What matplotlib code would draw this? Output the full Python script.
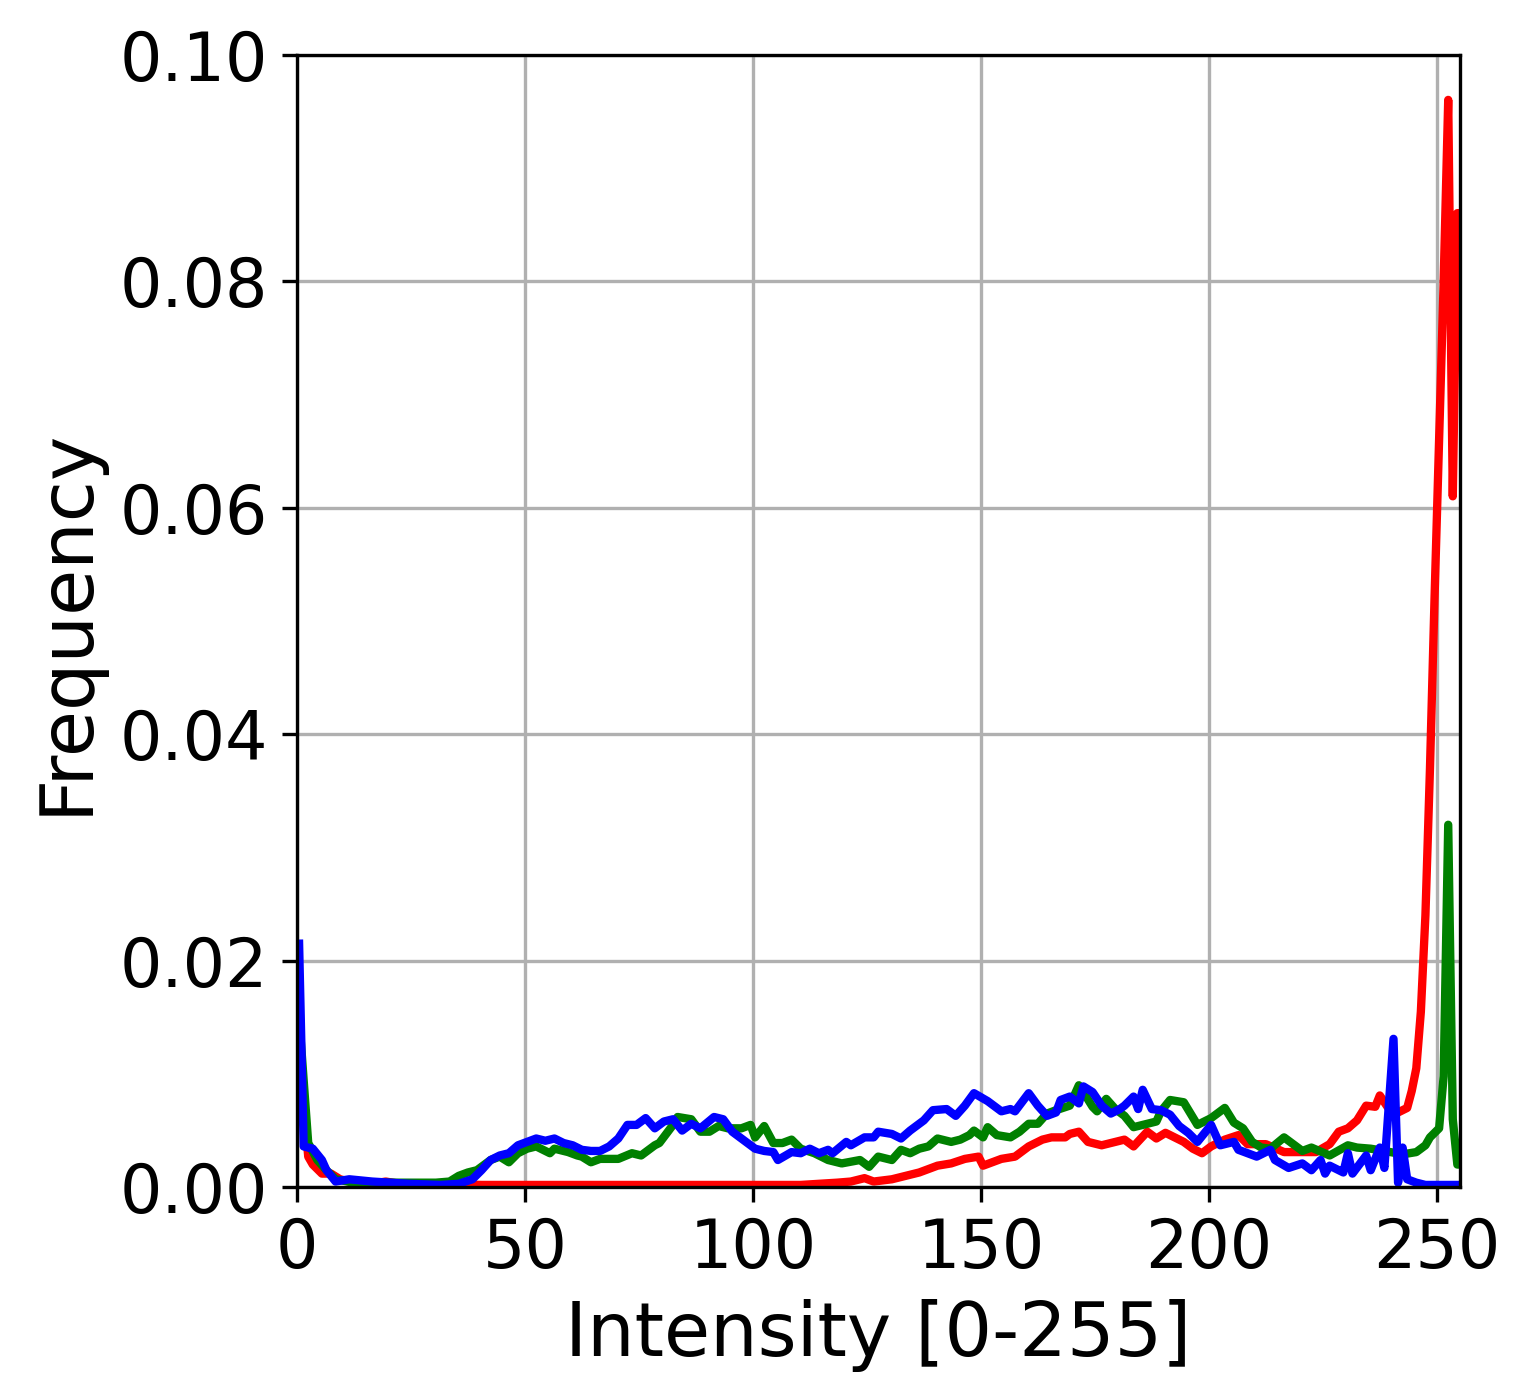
import numpy as np
import matplotlib
matplotlib.use("Agg")
import matplotlib.pyplot as plt

# histogram bins (bin index -> normalised count)
red_bins = [0, 2, 3, 5, 7, 9, 12, 16, 19, 22, 30, 40, 60, 80, 100, 110, 114, 118,
            121, 124, 126, 128, 130, 133, 136, 140, 143, 146, 149, 150, 154, 157,
            160, 163, 165, 168, 169, 171, 173, 176, 178, 181, 183, 186, 188, 190,
            192, 194, 196, 198, 200, 203, 206, 208, 212, 216, 219, 223, 226, 228,
            230, 232, 234, 236, 237, 239, 241, 243, 244, 245, 246, 247, 248, 249,
            250, 251, 252, 253, 254, 255]
red_vals = [0.0120, 0.0027, 0.0020, 0.0012, 0.0012, 0.0007, 0.0004, 0.0003, 0.0005,
            0.0003, 0.0003, 0.0002, 0.0002, 0.0002, 0.0002, 0.0002, 0.0003, 0.0004,
            0.0005, 0.0008, 0.0005, 0.0006, 0.0007, 0.0010, 0.0013, 0.0019, 0.0021,
            0.0025, 0.0027, 0.0019, 0.0025, 0.0027, 0.0036, 0.0042, 0.0044, 0.0044,
            0.0047, 0.0049, 0.0040, 0.0037, 0.0039, 0.0042, 0.0036, 0.0049, 0.0043,
            0.0048, 0.0044, 0.0040, 0.0034, 0.0030, 0.0036, 0.0042, 0.0046, 0.0038,
            0.0038, 0.0031, 0.0031, 0.0031, 0.0038, 0.0049, 0.0052, 0.0059, 0.0072,
            0.0071, 0.0081, 0.0069, 0.0066, 0.0070, 0.0085, 0.0105, 0.0155, 0.0240,
            0.0370, 0.0520, 0.0660, 0.0800, 0.0960, 0.0610, 0.0860, 0.0860]

green_bins = [0, 2, 4, 6, 8, 12, 20, 30, 33, 35, 37, 39, 41, 42, 44, 46, 48, 50, 52,
              55, 56, 59, 61, 62, 64, 66, 70, 73, 75, 78, 79, 82, 83, 86, 88, 90, 92,
              94, 97, 99, 100, 102, 104, 106, 108, 110, 113, 116, 119, 123, 125, 127,
              130, 132, 134, 136, 138, 140, 143, 145, 147, 148, 150, 151, 153, 156,
              158, 160, 162, 164, 166, 169, 171, 172, 174, 175, 177, 179, 181, 183,
              185, 188, 189, 191, 194, 197, 200, 203, 205, 207, 209, 211, 213, 216,
              218, 220, 222, 226, 230, 232, 235, 238, 242, 245, 247, 248, 250, 251,
              252, 253, 254, 255]
green_vals = [0.0150, 0.0039, 0.0024, 0.0015, 0.0007, 0.0004, 0.0004, 0.0004, 0.0005,
              0.0010, 0.0013, 0.0015, 0.0021, 0.0024, 0.0027, 0.0022, 0.0030, 0.0034,
              0.0036, 0.0030, 0.0034, 0.0031, 0.0028, 0.0027, 0.0022, 0.0025, 0.0025,
              0.0030, 0.0028, 0.0037, 0.0039, 0.0055, 0.0062, 0.0060, 0.0049, 0.0049,
              0.0054, 0.0052, 0.0052, 0.0055, 0.0044, 0.0054, 0.0039, 0.0039, 0.0042,
              0.0034, 0.0030, 0.0024, 0.0021, 0.0024, 0.0018, 0.0027, 0.0024, 0.0033,
              0.0030, 0.0034, 0.0036, 0.0043, 0.0040, 0.0042, 0.0046, 0.0050, 0.0044,
              0.0053, 0.0046, 0.0044, 0.0049, 0.0056, 0.0056, 0.0065, 0.0068, 0.0072,
              0.0090, 0.0084, 0.0071, 0.0067, 0.0078, 0.0069, 0.0063, 0.0053, 0.0055,
              0.0058, 0.0067, 0.0077, 0.0075, 0.0055, 0.0061, 0.0070, 0.0057, 0.0052,
              0.0040, 0.0035, 0.0034, 0.0044, 0.0038, 0.0032, 0.0035, 0.0028, 0.0037,
              0.0035, 0.0034, 0.0032, 0.0029, 0.0031, 0.0037, 0.0044, 0.0052, 0.0098,
              0.0320, 0.0060, 0.0020, 0.0020]

blue_bins = [0, 1, 3, 5, 6, 8, 11, 16, 24, 31, 35, 38, 40, 42, 44, 46, 48, 50, 52,
             54, 56, 58, 60, 62, 64, 66, 68, 70, 72, 74, 76, 78, 80, 82, 84, 86, 88,
             91, 93, 95, 97, 100, 102, 104, 105, 108, 110, 112, 114, 116, 117, 120,
             121, 124, 126, 127, 130, 132, 134, 137, 139, 142, 144, 146, 148, 151,
             154, 156, 157, 160, 162, 164, 166, 167, 169, 171, 172, 174, 176, 178,
             180, 181, 183, 184, 185, 187, 189, 191, 193, 195, 197, 200, 202, 205,
             206, 210, 213, 214, 217, 220, 222, 224, 225, 226, 228, 229, 230, 231,
             234, 235, 237, 238, 240, 241, 242, 243, 245, 247, 255]
blue_vals = [0.0215, 0.0036, 0.0034, 0.0024, 0.0015, 0.0005, 0.0007, 0.0005, 0.0003,
             0.0002, 0.0003, 0.0007, 0.0015, 0.0024, 0.0028, 0.0030, 0.0037, 0.0040,
             0.0043, 0.0041, 0.0043, 0.0039, 0.0037, 0.0033, 0.0032, 0.0032, 0.0036,
             0.0043, 0.0055, 0.0055, 0.0061, 0.0052, 0.0058, 0.0060, 0.0050, 0.0056,
             0.0052, 0.0062, 0.0060, 0.0049, 0.0043, 0.0034, 0.0032, 0.0031, 0.0024,
             0.0031, 0.0030, 0.0034, 0.0030, 0.0033, 0.0030, 0.0040, 0.0037, 0.0044,
             0.0044, 0.0049, 0.0047, 0.0043, 0.0050, 0.0059, 0.0068, 0.0069, 0.0063,
             0.0072, 0.0083, 0.0076, 0.0067, 0.0069, 0.0067, 0.0083, 0.0072, 0.0063,
             0.0066, 0.0077, 0.0080, 0.0074, 0.0089, 0.0084, 0.0072, 0.0065, 0.0069,
             0.0072, 0.0080, 0.0069, 0.0086, 0.0069, 0.0068, 0.0064, 0.0054, 0.0048,
             0.0040, 0.0055, 0.0037, 0.0040, 0.0033, 0.0027, 0.0033, 0.0024, 0.0017,
             0.0021, 0.0015, 0.0024, 0.0012, 0.0019, 0.0015, 0.0013, 0.0030, 0.0012,
             0.0028, 0.0015, 0.0035, 0.0017, 0.0131, 0.0004, 0.0035, 0.0007, 0.0004,
             0.0002, 0.0002]

fig = plt.figure(figsize=(5.1, 4.6667), dpi=300)
ax = fig.add_axes([0.194, 0.152, 0.760, 0.809])

# bin centres
ax.plot(np.array(red_bins) + 0.5, red_vals, color="red", lw=2.0)
ax.plot(np.array(green_bins) + 0.5, green_vals, color="green", lw=2.0)
ax.plot(np.array(blue_bins) + 0.5, blue_vals, color="blue", lw=2.0)

ax.set_xlim(0, 255)
ax.set_ylim(0, 0.1)
ax.set_xticks([0, 50, 100, 150, 200, 250])
ax.set_yticks([0, 0.02, 0.04, 0.06, 0.08, 0.10])
ax.grid(True)
ax.tick_params(labelsize=16)
ax.set_xlabel("Intensity [0-255]", fontsize=18)
ax.set_ylabel("Frequency", fontsize=18)

fig.savefig("out.png", dpi=300)
